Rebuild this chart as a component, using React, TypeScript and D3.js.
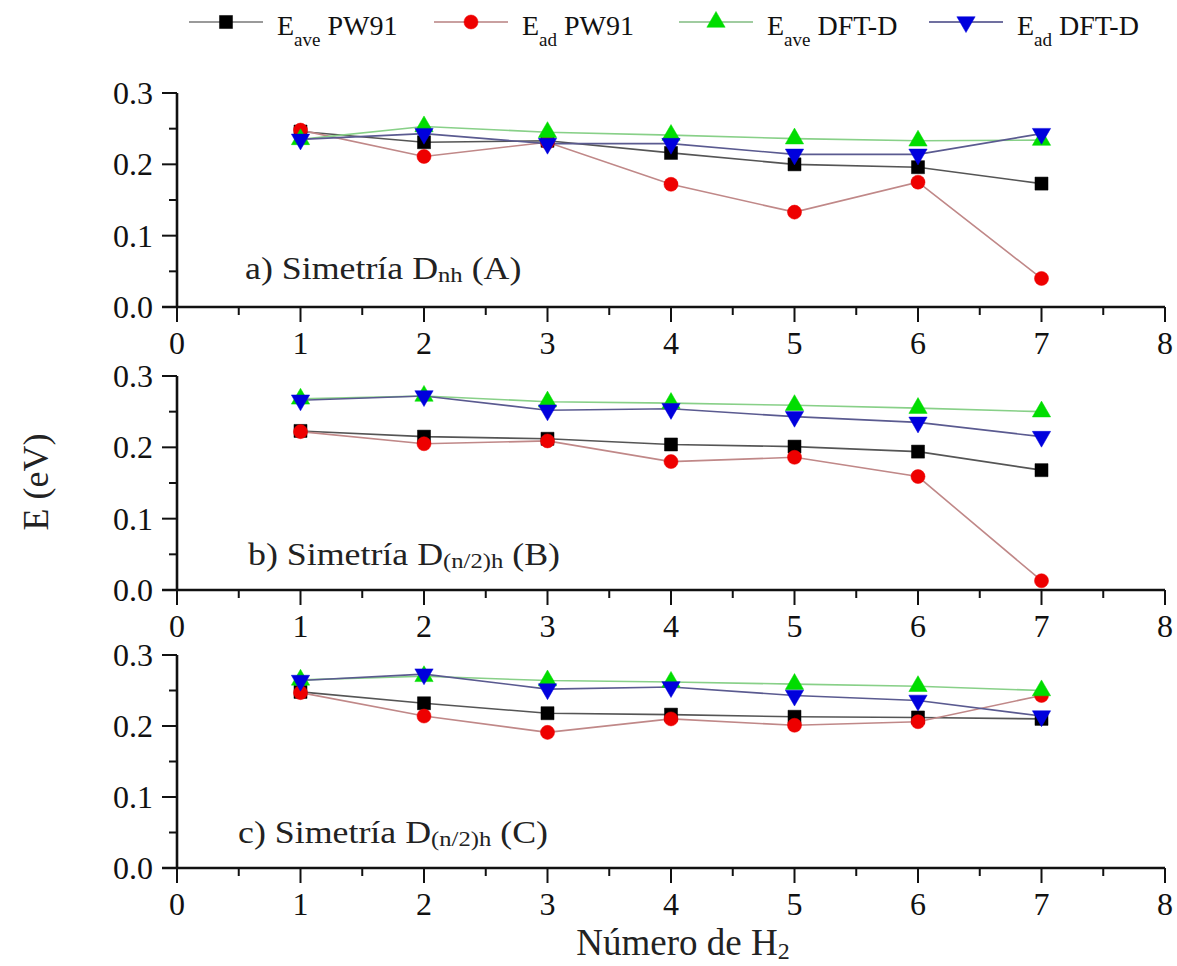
import React from "react";
import * as d3 from "d3";

// ---- data ----
const nH2 = [1, 2, 3, 4, 5, 6, 7];
const xTicks = [0, 1, 2, 3, 4, 5, 6, 7, 8];
const yTicks = [0.0, 0.1, 0.2, 0.3];

// Panel a) Simetría Dnh (A)
const aEavePW91 = [0.246, 0.231, 0.233, 0.216, 0.200, 0.196, 0.173];
const aEadPW91 = [0.248, 0.211, 0.231, 0.172, 0.133, 0.175, 0.040];
const aEaveDFTD = [0.235, 0.253, 0.245, 0.241, 0.236, 0.233, 0.234];
const aEadDFTD = [0.235, 0.243, 0.229, 0.229, 0.214, 0.214, 0.243];

// Panel b) Simetría D(n/2)h (B)
const bEavePW91 = [0.223, 0.215, 0.212, 0.204, 0.201, 0.194, 0.168];
const bEadPW91 = [0.222, 0.205, 0.209, 0.180, 0.186, 0.159, 0.013];
const bEaveDFTD = [0.268, 0.272, 0.264, 0.262, 0.259, 0.255, 0.250];
const bEadDFTD = [0.266, 0.272, 0.252, 0.254, 0.243, 0.235, 0.215];

// Panel c) Simetría D(n/2)h (C)
const cEavePW91 = [0.248, 0.232, 0.218, 0.216, 0.213, 0.212, 0.210];
const cEadPW91 = [0.247, 0.214, 0.191, 0.210, 0.201, 0.206, 0.243];
const cEaveDFTD = [0.265, 0.270, 0.264, 0.262, 0.259, 0.256, 0.250];
const cEadDFTD = [0.264, 0.273, 0.252, 0.255, 0.243, 0.236, 0.214];

const seriesMeta = [
  { main: "E", sub: "ave", suffix: "PW91", fill: "#000000", line: "#555555", legendLine: "#9a9a9a", shape: "square" },
  { main: "E", sub: "ad", suffix: "PW91", fill: "#ee0000", line: "#c08888", legendLine: "#c9a0a0", shape: "circle" },
  { main: "E", sub: "ave", suffix: "DFT-D", fill: "#00dd00", line: "#88d088", legendLine: "#a0cca0", shape: "up" },
  { main: "E", sub: "ad", suffix: "DFT-D", fill: "#0000dd", line: "#5a5a90", legendLine: "#7070a0", shape: "down" },
];

const panels = [
  { label: "a) Simetría D", sub: "nh", tail: " (A)", series: [aEavePW91, aEadPW91, aEaveDFTD, aEadDFTD], top: 93, bottom: 307, labelX: 245, labelY: 279 },
  { label: "b) Simetría D", sub: "(n/2)h", tail: " (B)", series: [bEavePW91, bEadPW91, bEaveDFTD, bEadDFTD], top: 376, bottom: 590, labelX: 248, labelY: 565 },
  { label: "c) Simetría D", sub: "(n/2)h", tail: " (C)", series: [cEavePW91, cEadPW91, cEaveDFTD, cEadDFTD], top: 655, bottom: 868, labelX: 238, labelY: 843 },
];

const FONT = "'Liberation Serif', 'Times New Roman', serif";
const W = 1177;
const H = 966;

const x = d3.scaleLinear().domain([0, 8]).range([177, 1165]);

function symbolPath(shape: string) {
  if (shape === "square") return d3.symbol(d3.symbolSquare, 170)()!;
  if (shape === "circle") return d3.symbol(d3.symbolCircle, 155)()!;
  return d3.symbol(d3.symbolTriangle, 145)()!;
}

function Marker({ shape, fill, cx, cy }: { shape: string; fill: string; cx: number; cy: number }) {
  const rot = shape === "down" ? 180 : 0;
  return (
    <path
      d={symbolPath(shape)}
      transform={`translate(${cx},${cy}) rotate(${rot})`}
      fill={fill}
      stroke={fill}
      strokeWidth={0.5}
    />
  );
}

function Panel({ p }: { p: (typeof panels)[number] }) {
  const y = d3.scaleLinear().domain([0, 0.3]).range([p.bottom, p.top]);
  const minorX = d3.range(0.5, 8, 1);
  const minorY = [0.05, 0.15, 0.25];
  return (
    <g>
      {/* axes */}
      <line x1={x(0) - 15} x2={x(8)} y1={y(0)} y2={y(0)} stroke="#111" strokeWidth={2.6} />
      <line x1={x(0)} x2={x(0)} y1={y(0)} y2={y(0.3)} stroke="#111" strokeWidth={2.6} />
      {xTicks.map((t) => (
        <g key={"xt" + t}>
          <line x1={x(t)} x2={x(t)} y1={y(0)} y2={y(0) + 15} stroke="#111" strokeWidth={2} />
          <text x={x(t)} y={y(0) + 47} textAnchor="middle" fontFamily={FONT} fontSize={32} fill="#111">
            {t}
          </text>
        </g>
      ))}
      {minorX.map((t) => (
        <line key={"xm" + t} x1={x(t)} x2={x(t)} y1={y(0)} y2={y(0) + 8} stroke="#111" strokeWidth={2} />
      ))}
      {yTicks.map((t) => (
        <g key={"yt" + t}>
          <line x1={x(0) - 15} x2={x(0)} y1={y(t)} y2={y(t)} stroke="#111" strokeWidth={2} />
          <text x={x(0) - 24} y={y(t) + 11} textAnchor="end" fontFamily={FONT} fontSize={32} fill="#111">
            {t.toFixed(1)}
          </text>
        </g>
      ))}
      {minorY.map((t) => (
        <line key={"ym" + t} x1={x(0) - 8} x2={x(0)} y1={y(t)} y2={y(t)} stroke="#111" strokeWidth={2} />
      ))}
      {/* label */}
      <text
        transform={`translate(${p.labelX},${p.labelY}) scale(1.12,1)`}
        fontFamily={FONT}
        fontSize={32}
        fill="#222"
      >
        {p.label}
        <tspan fontSize={22} dy={3}>{p.sub}</tspan>
        <tspan dy={-3}>{p.tail}</tspan>
      </text>
      {/* lines */}
      {p.series.map((vals, i) => {
        const line = d3
          .line<number>()
          .x((_, k) => x(nH2[k]))
          .y((v) => y(v));
        return (
          <path key={"l" + i} d={line(vals)!} fill="none" stroke={seriesMeta[i].line} strokeWidth={1.6} />
        );
      })}
      {/* markers */}
      {p.series.map((vals, i) => (
        <g key={"m" + i}>
          {vals.map((v, k) => (
            <Marker key={k} shape={seriesMeta[i].shape} fill={seriesMeta[i].fill} cx={x(nH2[k])} cy={y(v)} />
          ))}
        </g>
      ))}
    </g>
  );
}

const legendX = [226, 471, 716, 966];

function Legend() {
  return (
    <g>
      {seriesMeta.map((s, i) => {
        const cx = legendX[i];
        return (
          <g key={i}>
            <line x1={cx - 37} x2={cx + 37} y1={22} y2={22} stroke={s.legendLine} strokeWidth={2} />
            <Marker shape={s.shape} fill={s.fill} cx={cx} cy={22} />
            <text x={cx + 51} y={35} fontFamily={FONT} fontSize={28} fill="#111">
              {s.main}
              <tspan fontSize={19} dy={11}>{s.sub}</tspan>
              <tspan dy={-11}>{" " + s.suffix}</tspan>
            </text>
          </g>
        );
      })}
    </g>
  );
}

export default function App() {
  return (
    <svg width={W} height={H} style={{ display: "block", position: "absolute", left: 0, top: 0, background: "#fff" }}>
      <rect x={0} y={0} width={W} height={H} fill="#fff" />
      <Legend />
      {panels.map((p, i) => (
        <Panel key={i} p={p} />
      ))}
      <text
        transform={`translate(48,482) rotate(-90)`}
        textAnchor="middle"
        fontFamily={FONT}
        fontSize={36}
        fill="#222"
      >
        E (eV)
      </text>
      <text x={683} y={955} textAnchor="middle" fontFamily={FONT} fontSize={37} fill="#222">
        Número de H<tspan fontSize={24} dy={4}>2</tspan>
      </text>
    </svg>
  );
}
